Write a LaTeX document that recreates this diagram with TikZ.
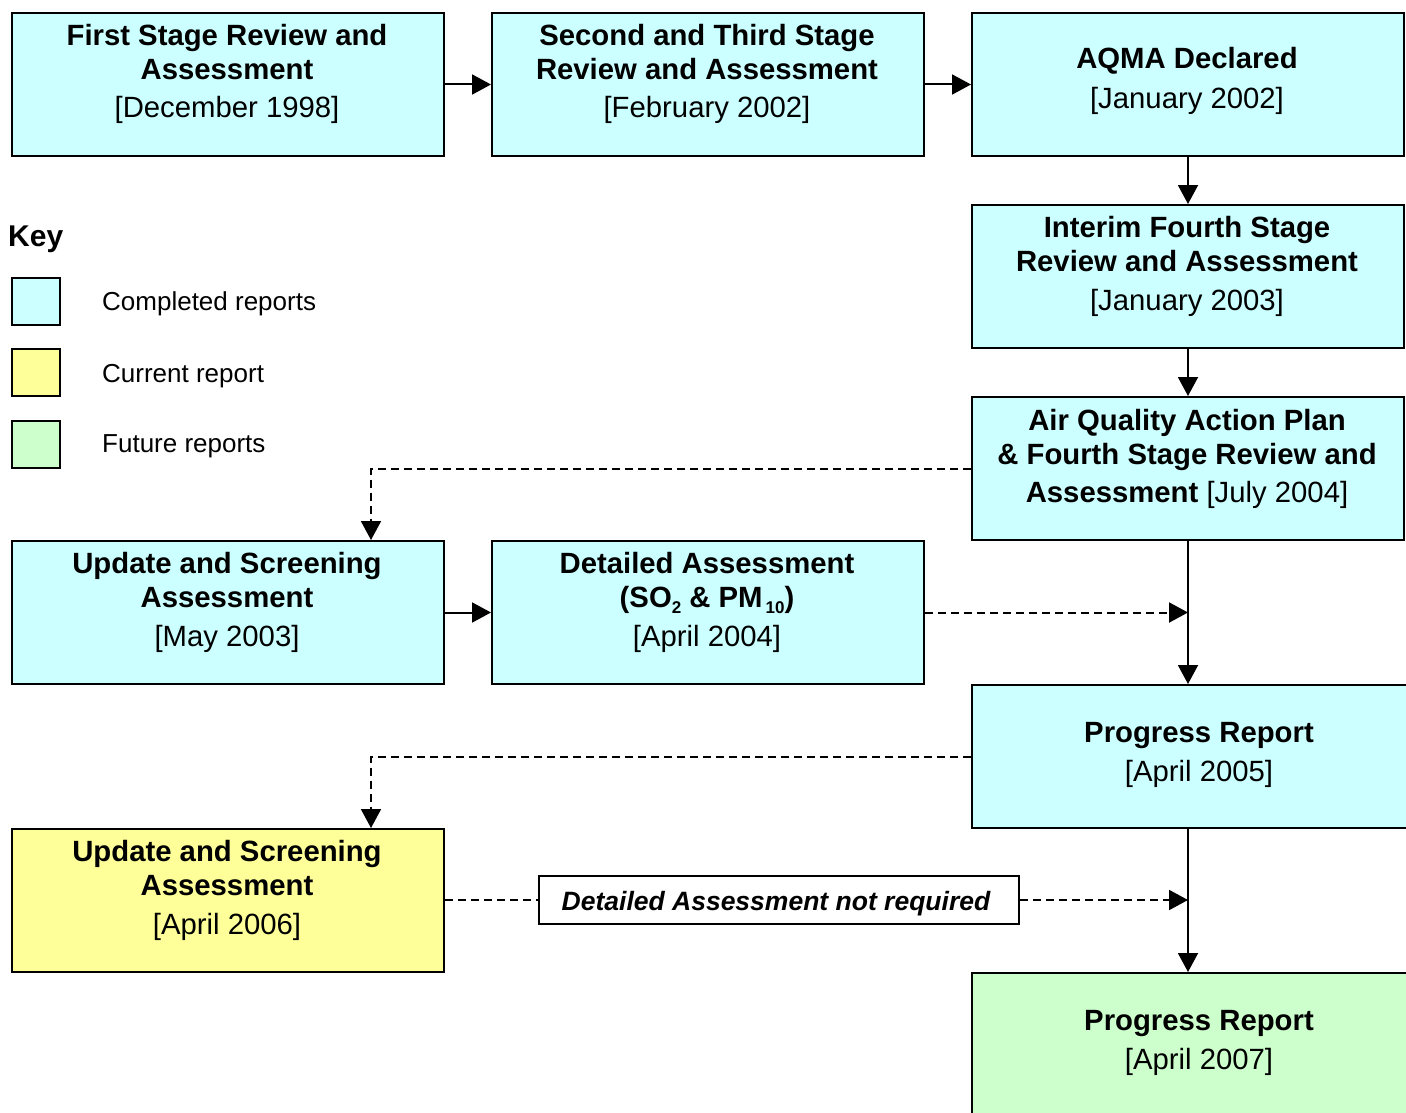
\documentclass[tikz,border=0pt]{standalone}
\usepackage{fontspec}
\setmainfont{Liberation Sans}
\usetikzlibrary{arrows.meta}
\definecolor{donec}{HTML}{CCFFFF}
\definecolor{currc}{HTML}{FFFF99}
\definecolor{futc}{HTML}{CCFFCC}
\newcommand\lowsub[1]{\raisebox{-0.22em}{\fontsize{17}{17}\selectfont #1}}
\begin{document}
\begin{tikzpicture}[x=1pt,y=-1pt,
  box/.style={draw=black, line width=2pt, anchor=north west, inner sep=0pt,
              minimum width=432pt, minimum height=143pt},
  widebox/.style={box, minimum width=456pt},
  keybox/.style={draw=black, line width=2pt, anchor=north west, inner sep=0pt,
              minimum width=48pt, minimum height=47pt},
  bt/.style={font=\bfseries\fontsize{29.3}{34}\selectfont, anchor=base, inner sep=0pt},
  rt/.style={font=\fontsize{29.3}{34}\selectfont, anchor=base, inner sep=0pt},
  kt/.style={font=\fontsize{26}{30}\selectfont, anchor=base west, inner sep=0pt},
  conn/.style={line width=2pt},
  arr/.style={conn, -{Triangle[length=19pt,width=20pt]}},
  dsh/.style={conn, dash pattern=on 8pt off 5pt},
  darr/.style={dsh, -{Triangle[length=19pt,width=20pt]}}
]
\clip (0,0) rectangle (1406,1113);
\fill[white] (0,0) rectangle (1406,1113);

% boxes
\node[box, fill=donec] (fs) at (11,12) {};
\node[box, fill=donec] (st) at (491,12) {};
\node[box, fill=donec] (aqma) at (971,12) {};
\node[box, fill=donec] (interim) at (971,204) {};
\node[box, fill=donec] (aqap) at (971,396) {};
\node[box, fill=donec] (us1) at (11,540) {};
\node[box, fill=donec] (da) at (491,540) {};
\node[widebox, fill=donec] (pr5) at (971,684) {};
\node[box, fill=currc] (us2) at (11,828) {};
\node[widebox, fill=futc] (pr7) at (971,972) {};

% texts
\node[bt] at (227,45.5) {First Stage Review and};
\node[bt] at (227,79.5) {Assessment};
\node[rt] at (227,118) {[December 1998]};

\node[bt] at (707,45.5) {Second and Third Stage};
\node[bt] at (707,79.5) {Review and Assessment};
\node[rt] at (707,118) {[February 2002]};

\node[bt] at (1187,69) {AQMA Declared};
\node[rt] at (1187,109) {[January 2002]};

\node[bt] at (1187,237.5) {Interim Fourth Stage};
\node[bt] at (1187,271.5) {Review and Assessment};
\node[rt] at (1187,310) {[January 2003]};

\node[bt] at (1187,430) {Air Quality Action Plan};
\node[bt] at (1187,464) {\& Fourth Stage Review and};
\node[rt] at (1187,502) {\textbf{Assessment} [July 2004]};

\node[bt] at (227,573.5) {Update and Screening};
\node[bt] at (227,607.5) {Assessment};
\node[rt] at (227,646) {[May 2003]};

\node[bt] at (707,573.5) {Detailed Assessment};
\node[bt] at (707,607.5) {(SO\lowsub{2} \& PM\hspace{3pt}\lowsub{10})};
\node[rt] at (707,646) {[April 2004]};

\node[bt] at (1199,742) {Progress Report};
\node[rt] at (1199,781) {[April 2005]};

\node[bt] at (227,861.5) {Update and Screening};
\node[bt] at (227,895.5) {Assessment};
\node[rt] at (227,934) {[April 2006]};

\node[bt] at (1199,1030) {Progress Report};
\node[rt] at (1199,1069) {[April 2007]};

% key
\node[font=\bfseries\fontsize{30}{34}\selectfont, anchor=base west, inner sep=0pt] (keyt) at (8,246) {Key};
\node[keybox, fill=donec] (k1) at (11,277) {};
\node[keybox, fill=currc] (k2) at (11,348) {};
\node[keybox, fill=futc] (k3) at (11,420) {};
\node[kt] (k1t) at (102,310) {Completed reports};
\node[kt] (k2t) at (102,382) {Current report};
\node[kt] (k3t) at (102,452) {Future reports};

% label box
\node[draw=black, line width=2pt, fill=white, minimum width=480pt, minimum height=48pt, inner sep=0pt] (nr) at (779,900) {};
\node[font=\bfseries\itshape\fontsize{26.5}{30}\selectfont, anchor=base, inner sep=0pt] (nrt) at (776,910) {Detailed Assessment not required};

% coordinates
\coordinate (j1) at ([xshift=360pt]us1.north west);
\coordinate (j2) at ([xshift=360pt]us2.north west);
\coordinate (m1) at (aqap.south |- da.east);
\coordinate (m2) at (aqap.south |- nr.east);

% connectors
\draw[arr] (fs) -- (st);
\draw[arr] (st) -- (aqma);
\draw[arr] (aqma) -- (interim);
\draw[arr] (interim) -- (aqap);
\draw[arr] (aqap.south) -- (aqap.south |- pr5.north);
\draw[arr] (us1) -- (da);
\draw[arr] (aqap.south |- pr5.south) -- (aqap.south |- pr7.north);
\draw[darr] (da.east) -- (m1);
\draw[darr] (aqap.west) -| (j1);
\draw[darr] (pr5.west) -| (j2);
\draw[dsh] (us2.east |- nr.west) -- (nr.west);
\draw[darr] (nr.east) -- (m2);
\end{tikzpicture}
\end{document}
